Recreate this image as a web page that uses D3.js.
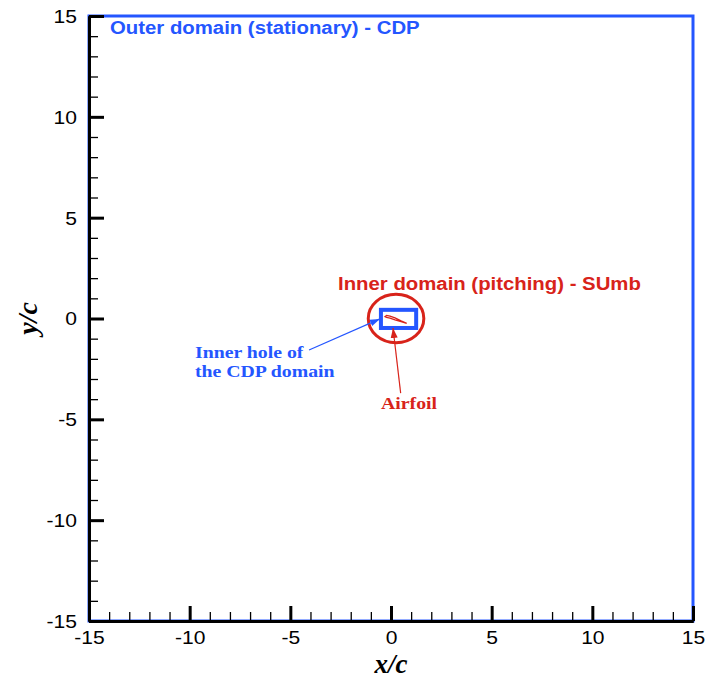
<!DOCTYPE html>
<html>
<head>
<meta charset="utf-8">
<script src="https://cdnjs.cloudflare.com/ajax/libs/d3/7.8.5/d3.min.js"></script>
<style>
  body { margin: 0; background: #fff; }
  svg { display: block; }
  .tick text { font-family: "Liberation Sans", Arial, sans-serif; font-size: 18px; fill: #000; }
</style>
</head>
<body>
<div id="chart"></div>
<script>
// axis ranges and ticks
var xDomain = [-15, 15];
var yDomain = [-15, 15];
var majorTicks = [-15, -10, -5, 0, 5, 10, 15];
var minorTicks = d3.range(-15, 16, 1);

// outer domain (stationary, CDP)
var outerBox = { x0: -15, x1: 15, y0: -15, y1: 15 };
// inner hole of the CDP domain
var holeBox = { x0: -0.5, x1: 1.25, y0: -0.47, y1: 0.43 };
// inner domain (pitching, SUmb)
var innerDomain = { cx: 0.25, cy: 0.0, rx: 1.38, ry: 1.2 };
// airfoil outline (pitched)
var airfoilX = [-0.30, -0.22, -0.05, 0.20, 0.50, 0.78, 0.50, 0.20, -0.05, -0.22, -0.30];
var airfoilY = [ 0.09,  0.15,  0.12, 0.03, -0.12, -0.24, -0.16, -0.07, 0.02, 0.05, 0.09];

var blue = '#2456ff';
var red = '#d8231a';

var W = 709, H = 681;

var svg = d3.select('#chart').append('svg')
    .attr('width', W)
    .attr('height', H);

var x = d3.scaleLinear().domain(xDomain).range([89, 693]);
var y = d3.scaleLinear().domain(yDomain).range([621, 16]);

// the original fonts look a bit wider than ours
function stretch(sel, f) {
    sel.each(function() {
        var w = this.getComputedTextLength();
        d3.select(this)
            .attr('textLength', w * f)
            .attr('lengthAdjust', 'spacingAndGlyphs');
    });
}

var defs = svg.append('defs');
function arrowMarker(id, color) {
    defs.append('marker')
        .attr('id', id)
        .attr('viewBox', '0 0 10 10')
        .attr('refX', 10)
        .attr('refY', 5)
        .attr('markerWidth', 10)
        .attr('markerHeight', 10)
        .attr('markerUnits', 'userSpaceOnUse')
        .attr('orient', 'auto')
        .append('path')
        .attr('d', 'M0,1.5 L10,5 L0,8.5 Z')
        .attr('fill', color);
}
arrowMarker('arrowBlue', blue);
arrowMarker('arrowRed', red);

// outer domain
svg.append('rect')
    .attr('x', x(outerBox.x0))
    .attr('y', y(outerBox.y1))
    .attr('width', x(outerBox.x1) - x(outerBox.x0))
    .attr('height', y(outerBox.y0) - y(outerBox.y1))
    .attr('fill', 'none')
    .attr('stroke', blue)
    .attr('stroke-width', 3);

// inner domain ellipse
svg.append('ellipse')
    .attr('cx', x(innerDomain.cx))
    .attr('cy', y(innerDomain.cy))
    .attr('rx', x(innerDomain.cx + innerDomain.rx) - x(innerDomain.cx))
    .attr('ry', y(innerDomain.cy) - y(innerDomain.cy + innerDomain.ry))
    .attr('fill', 'none')
    .attr('stroke', red)
    .attr('stroke-width', 3);

// hole box
svg.append('rect')
    .attr('x', x(holeBox.x0))
    .attr('y', y(holeBox.y1))
    .attr('width', x(holeBox.x1) - x(holeBox.x0))
    .attr('height', y(holeBox.y0) - y(holeBox.y1))
    .attr('fill', 'none')
    .attr('stroke', blue)
    .attr('stroke-width', 4);

// airfoil
var foil = airfoilX.map(function(d, i) { return [d, airfoilY[i]]; });
svg.append('path')
    .attr('d', d3.line()
        .x(function(d) { return x(d[0]); })
        .y(function(d) { return y(d[1]); })
        .curve(d3.curveLinearClosed)(foil))
    .attr('fill', '#fff')
    .attr('stroke', red)
    .attr('stroke-width', 1.3);

// annotation arrows
svg.append('line')
    .attr('x1', x(-4.07)).attr('y1', y(-1.56))
    .attr('x2', x(-0.55)).attr('y2', y(-0.02))
    .attr('stroke', blue)
    .attr('stroke-width', 1.2)
    .attr('marker-end', 'url(#arrowBlue)');

svg.append('line')
    .attr('x1', x(0.48)).attr('y1', y(-3.7))
    .attr('x2', x(0.1)).attr('y2', y(-0.47))
    .attr('stroke', red)
    .attr('stroke-width', 1.2)
    .attr('marker-end', 'url(#arrowRed)');

// axes
var fmt = function(d) { return String(d); };  // plain hyphen minus
var yMinor = d3.axisLeft(y).tickValues(minorTicks).tickSize(-9).tickSizeOuter(0).tickFormat('');
var xMinor = d3.axisBottom(x).tickValues(minorTicks).tickSize(-9).tickSizeOuter(0).tickFormat('');
var yMajor = d3.axisLeft(y).tickValues(majorTicks).tickSize(-15).tickSizeOuter(0).tickPadding(12).tickFormat(fmt);
var xMajor = d3.axisBottom(x).tickValues(majorTicks).tickSize(-15).tickSizeOuter(0).tickPadding(9).tickFormat(fmt);

function styleAxis(g, tickW) {
    g.select('.domain').attr('stroke', '#000').attr('stroke-width', 3);
    g.selectAll('.tick line').attr('stroke', '#000').attr('stroke-width', tickW);
}

var gyMinor = svg.append('g').attr('transform', 'translate(' + x(-15) + ',0)').call(yMinor);
styleAxis(gyMinor, 1.3);
var gxMinor = svg.append('g').attr('transform', 'translate(0,' + y(-15) + ')').call(xMinor);
styleAxis(gxMinor, 1.3);
var gy = svg.append('g').attr('transform', 'translate(' + x(-15) + ',0)').call(yMajor);
styleAxis(gy, 3);
var gx = svg.append('g').attr('transform', 'translate(0,' + y(-15) + ')').call(xMajor);
styleAxis(gx, 3);
gy.selectAll('.tick text').attr('dy', '0.36em');
gx.selectAll('.tick text').attr('dy', '0.75em');
stretch(gy.selectAll('.tick text'), 1.17);
stretch(gx.selectAll('.tick text'), 1.17);

// axis titles
var sans = '"Liberation Sans", Arial, sans-serif';
var serif = '"Liberation Serif", "Times New Roman", serif';

svg.append('text')
    .attr('x', x(0))
    .attr('y', 673)
    .attr('text-anchor', 'middle')
    .style('font-family', serif)
    .style('font-weight', 'bold')
    .style('font-style', 'italic')
    .style('font-size', '27px')
    .text('x/c');

svg.append('text')
    .attr('transform', 'translate(37,' + y(0) + ') rotate(-90)')
    .attr('text-anchor', 'middle')
    .style('font-family', serif)
    .style('font-weight', 'bold')
    .style('font-style', 'italic')
    .style('font-size', '28px')
    .text('y/c');

// labels
var labels = svg.append('g');

labels.append('text')
    .attr('x', 110).attr('y', 34)
    .attr('fill', blue)
    .style('font-family', sans).style('font-weight', 'bold').style('font-size', '18px')
    .text('Outer domain (stationary) - CDP');

labels.append('text')
    .attr('x', 338).attr('y', 290)
    .attr('fill', red)
    .style('font-family', sans).style('font-weight', 'bold').style('font-size', '18px')
    .text('Inner domain (pitching) - SUmb');

labels.append('text')
    .attr('x', 195).attr('y', 358)
    .attr('fill', blue)
    .style('font-family', serif).style('font-weight', 'bold').style('font-size', '17.5px')
    .text('Inner hole of');

labels.append('text')
    .attr('x', 195).attr('y', 377)
    .attr('fill', blue)
    .style('font-family', serif).style('font-weight', 'bold').style('font-size', '17.5px')
    .text('the CDP domain');

labels.append('text')
    .attr('x', 381).attr('y', 409)
    .attr('fill', red)
    .style('font-family', serif).style('font-weight', 'bold').style('font-size', '17.5px')
    .text('Airfoil');

stretch(labels.selectAll('text'), 1.13);
</script>
</body>
</html>
